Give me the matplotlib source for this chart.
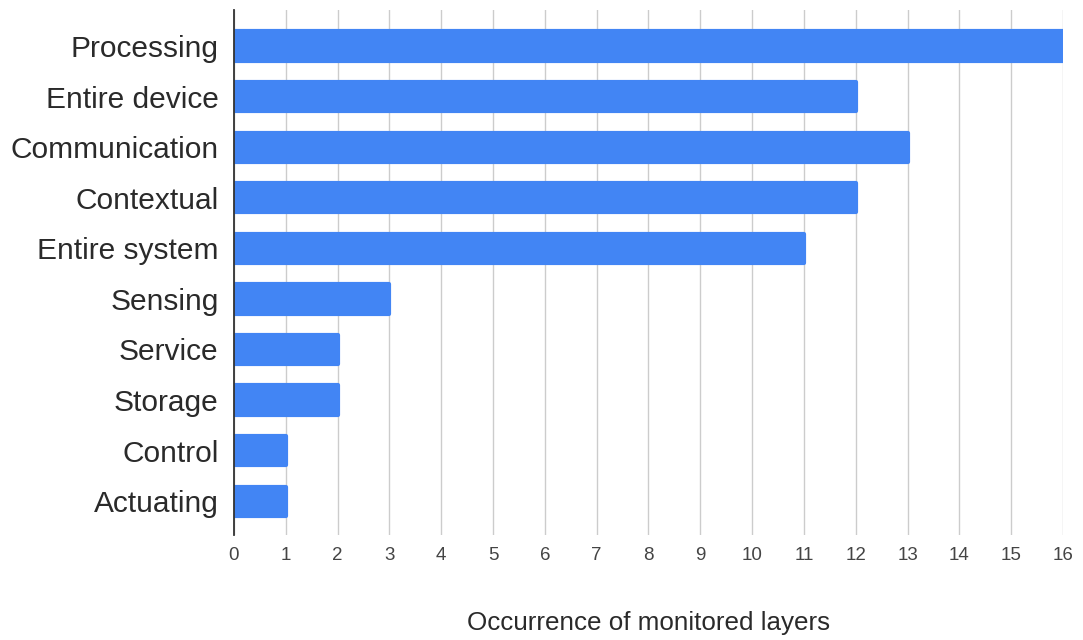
import matplotlib
matplotlib.use("Agg")
import matplotlib.pyplot as plt

# data
layers = ["Processing", "Entire device", "Communication", "Contextual", "Entire system",
          "Sensing", "Service", "Storage", "Control", "Actuating"]
counts = [16, 12, 13, 12, 11, 3, 2, 2, 1, 1]
xticks = list(range(0, 17))

plt.rcParams['font.family'] = ['Liberation Sans', 'DejaVu Sans']

fig = plt.figure(figsize=(10.83, 6.4), dpi=100)
ax = fig.add_axes([0.216, 0.164, 0.7655, 0.82])

blue = "#4285f4"
pos = list(range(len(layers)))
ax.barh(pos, counts, height=0.58, color=blue, edgecolor=blue,
        linewidth=3, joinstyle="round", zorder=3)

ax.set_xlim(0, 16)
ax.set_ylim(9.67, -0.71)
ax.set_xticks(xticks)
ax.set_xticklabels([str(t) for t in xticks], fontsize=13.5, color="#444444")
ax.set_yticks(pos)
ax.set_yticklabels(layers, fontsize=21.5, color="#2a2a2a")
ax.tick_params(axis="both", length=0)
ax.tick_params(axis="x", pad=8.5)
ax.tick_params(axis="y", pad=11)

ax.grid(axis="x", color="#cccccc", linewidth=1, zorder=0)
ax.set_axisbelow(True)
for s in ["top", "right", "bottom"]:
    ax.spines[s].set_visible(False)
ax.spines["left"].set_color("#333333")
ax.spines["left"].set_linewidth(1.3)
ax.spines["left"].set_zorder(4)

ax.set_xlabel("Occurrence of monitored layers", fontsize=18.7, color="#2a2a2a", labelpad=34)

fig.savefig("out.png", dpi=100)
